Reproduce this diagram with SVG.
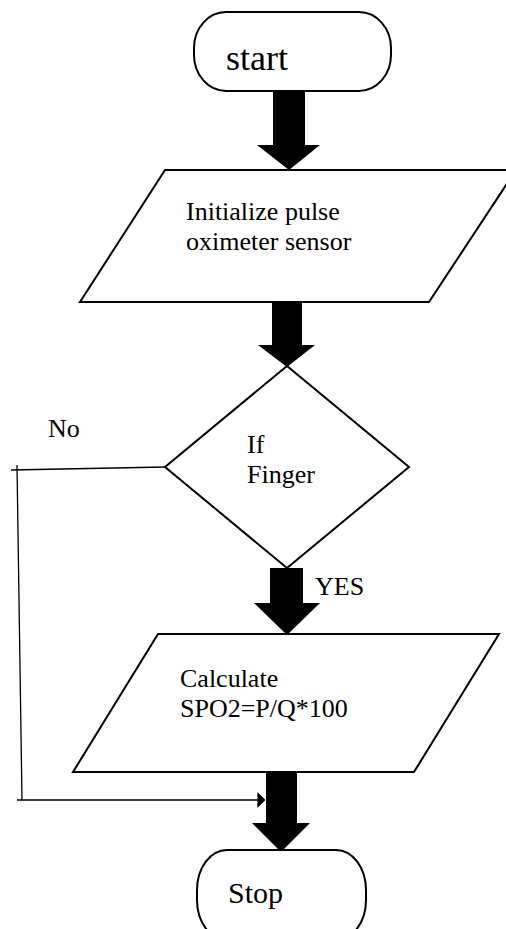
<svg xmlns="http://www.w3.org/2000/svg" width="506" height="929" viewBox="0 0 506 929">
<style>
.shape{fill:#fff;stroke:#000;stroke-width:2}
.txt{font-family:"Liberation Serif",serif;font-size:26px;fill:#000}
.big{font-size:36px}
.mid{font-size:30px}
.line{fill:none;stroke:#000;stroke-width:1.3}
.fat{fill:#000;stroke:none}
</style>
<defs>
<marker id="tri" viewBox="0 0 10 10" refX="2" refY="5" markerWidth="8" markerHeight="16" markerUnits="userSpaceOnUse" orient="auto" preserveAspectRatio="none">
<path d="M0,0 L10,5 L0,10 Z" fill="#000"/>
</marker>
</defs>
<rect width="506" height="929" fill="#fff"/>
<g id="connectors">
<polygon class="fat" points="273,91 305,91 305,145 320,145 289,170 257,145 273,145"/>
<polygon class="fat" points="272,302 302,302 302,345 315,345 287,367 258,345 272,345"/>
<polygon class="fat" points="270,568 303,568 303,603 320,603 287,635 254,603 270,603"/>
<polygon class="fat" points="266,772 297,772 297,823 310,823 281,852 252,823 266,823"/>
<path class="line" d="M165,467 L11,470"/>
<path class="line" d="M17,465 L22,800"/>
<path class="line" d="M17,800 L259,800" marker-end="url(#tri)"/>
<text class="txt" font-family="Liberation Serif, serif" x="48" y="437">No</text>
<text class="txt" font-family="Liberation Serif, serif" x="315" y="595">YES</text>
</g>
<g id="start">
<rect class="shape" x="194" y="12" width="197" height="79" rx="32" ry="36"/>
<text class="txt big" font-family="Liberation Serif, serif" x="226" y="70">start</text>
</g>
<g id="init">
<polygon class="shape" points="165,170 516,170 429,302 80,302"/>
<text class="txt" font-family="Liberation Serif, serif" x="186" y="220">Initialize pulse</text>
<text class="txt" font-family="Liberation Serif, serif" x="186" y="250">oximeter sensor</text>
</g>
<g id="decision">
<polygon class="shape" points="287,366 409,467 287,568 165,467"/>
<text class="txt" font-family="Liberation Serif, serif" x="247" y="453">If</text>
<text class="txt" font-family="Liberation Serif, serif" x="247" y="483">Finger</text>
</g>
<g id="calc">
<polygon class="shape" points="158,634 499,634 414,772 73,772"/>
<text class="txt" font-family="Liberation Serif, serif" x="180" y="687">Calculate</text>
<text class="txt" font-family="Liberation Serif, serif" x="180" y="717">SPO2=P/Q*100</text>
</g>
<g id="stop">
<rect class="shape" x="197" y="850" width="169" height="90" rx="30" ry="40"/>
<text class="txt mid" font-family="Liberation Serif, serif" x="228" y="903">Stop</text>
</g>
</svg>
